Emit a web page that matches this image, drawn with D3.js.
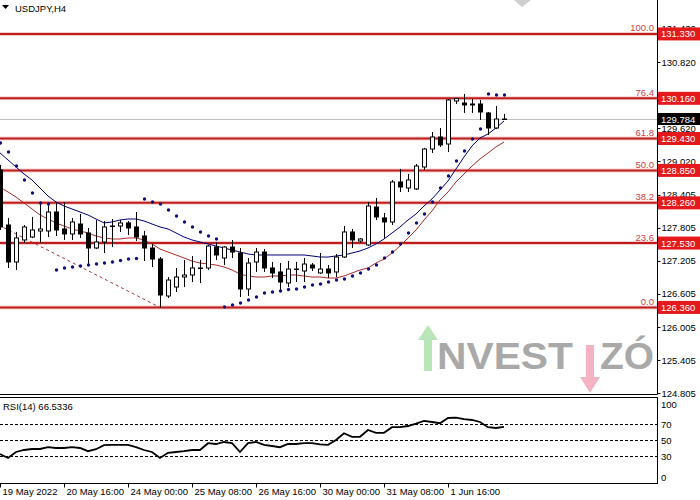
<!DOCTYPE html>
<html>
<head>
<meta charset="utf-8">
<script src="https://cdn.jsdelivr.net/npm/d3@7"></script>
<style>
  body { margin: 0; background: #fff; }
  svg { display: block; }
  text { font-family: "Liberation Sans", Arial, sans-serif; }
</style>
</head>
<body>
<svg id="chart"></svg>
<script>
// Candles, USDJPY H4 (index = bar number from the left edge)
const opens = [128.858,127.858,127.186,127.586,127.640,127.749,127.749,128.094,127.786,127.695,
  127.876,127.713,127.440,127.549,127.840,127.840,127.895,127.822,127.658,127.440,
  127.240,126.568,126.731,126.913,126.949,127.067,127.077,127.458,127.258,127.458,
  127.349,126.695,127.186,127.367,127.077,127.004,126.804,127.049,127.022,127.131,
  126.986,127.058,127.004,127.276,127.731,127.567,127.495,128.185,127.986,127.913,
  128.640,128.531,128.513,128.912,129.239,129.457,129.330,130.112,130.075,130.057,
  130.057,129.894,129.621,129.780];
const highs = [128.949,127.986,127.731,127.858,128.004,128.276,128.222,128.258,128.276,127.986,
  128.058,127.804,127.949,127.931,127.967,127.949,127.931,128.094,127.749,127.513,
  127.276,126.913,127.077,127.222,127.295,127.222,127.495,127.549,127.476,127.586,
  127.440,127.258,127.440,127.422,127.186,127.167,127.204,127.186,127.258,127.167,
  127.349,127.131,127.331,127.840,127.786,127.622,128.276,128.349,128.076,128.676,
  128.876,128.785,128.967,129.258,129.548,129.621,130.148,130.166,130.239,130.148,
  130.130,129.912,130.021,129.876];
const lows = [127.767,127.077,127.040,127.531,127.622,127.531,127.640,127.658,127.586,127.586,
  127.622,127.149,127.422,127.349,127.458,127.731,127.676,127.567,127.204,127.095,
  126.360,126.531,126.640,126.731,126.822,126.804,127.040,127.222,127.131,127.258,
  126.549,126.568,127.004,127.004,126.895,126.677,126.731,126.822,126.822,127.022,
  126.967,126.895,126.913,127.258,127.440,127.531,127.476,127.949,127.622,127.858,
  128.458,128.458,128.494,128.858,129.167,129.276,129.185,130.057,129.894,129.894,
  129.766,129.494,129.603,129.766];
const closes = [127.822,127.186,127.622,127.822,127.767,127.786,128.094,127.767,127.695,127.913,
  127.695,127.440,127.549,127.822,127.831,127.895,127.804,127.640,127.440,127.240,
  126.586,126.858,126.913,126.949,127.077,127.077,127.476,127.313,127.458,127.367,
  126.695,127.167,127.367,127.077,126.986,126.822,127.058,127.058,127.149,127.077,
  127.058,126.986,127.276,127.731,127.586,127.604,128.203,128.004,127.913,128.640,
  128.549,128.676,128.930,129.239,129.457,129.312,130.130,130.157,130.039,130.039,
  129.912,129.621,129.784,129.784];

// Indicators
const maFast = [129.167,129.040,128.912,128.785,128.676,128.531,128.385,128.276,128.203,128.149,
  128.094,128.040,127.967,127.895,127.913,127.949,127.967,127.967,127.931,127.876,
  127.822,127.786,127.713,127.640,127.586,127.549,127.513,127.476,127.440,127.404,
  127.367,127.331,127.313,127.313,127.313,127.313,127.313,127.313,127.313,127.295,
  127.276,127.276,127.295,127.313,127.349,127.386,127.440,127.513,127.604,127.713,
  127.822,127.949,128.058,128.203,128.331,128.494,128.658,128.876,129.094,129.294,
  129.439,129.512,129.621,129.748];
const maSlow = [128.549,128.458,128.367,128.258,128.149,128.040,127.967,127.895,127.840,127.786,
  127.749,127.713,127.658,127.622,127.604,127.604,127.622,127.622,127.586,127.513,
  127.422,127.367,127.313,127.258,127.204,127.167,127.149,127.131,127.095,127.040,
  126.967,126.931,126.913,126.913,126.931,126.931,126.949,126.949,126.931,126.913,
  126.913,126.895,126.895,126.931,126.986,127.040,127.077,127.167,127.240,127.349,
  127.476,127.622,127.767,127.949,128.113,128.313,128.458,128.640,128.785,128.930,
  129.058,129.167,129.276,129.367];
const sar = [129.348,129.185,128.930,128.676,128.440,128.258,128.240,127.040,127.077,127.095,
  127.113,127.131,127.149,127.167,127.186,127.213,127.240,127.249,128.331,128.276,
  128.240,128.131,128.022,127.913,127.822,127.731,127.658,127.604,126.368,126.404,
  126.440,126.495,126.549,126.622,126.640,126.658,126.686,126.695,126.731,126.767,
  126.786,126.822,126.858,126.876,126.931,126.986,127.058,127.131,127.258,127.367,
  127.513,127.713,127.895,128.058,128.276,128.531,128.749,129.021,129.203,129.421,
  129.603,130.239,130.221,130.221];
const rsi = [32.5,27.5,35,37.5,38.75,38.75,41,40,40,41,
  40,36,38.5,43.5,44,44,44,41,37.5,35,
  27.5,34,35,36,37.5,37.5,46,45,47.5,46,
  35,46,47.5,44,42.5,41,45,45,46,46,
  44.5,44,50,58.5,54,54,62.5,59,59,66,
  66,67.5,70.5,74,72.5,71,77.5,78,76,75,
  72.5,66,65,66.53];

// Fibonacci retracement
const fibLevels = ["100.0", "76.4", "61.8", "50.0", "38.2", "23.6", "0.0"];
const fibPrices = [131.330, 130.160, 129.430, 128.850, 128.260, 127.530, 126.360];
const fibAnchorIdx = [-47, 20];
const fibAnchorPrice = [131.330, 126.360];

// Axes
const priceTicks = [131.430, 130.820, 129.620, 129.020, 128.405, 127.805, 127.205, 126.605, 126.005, 125.405, 124.805];
const rsiTicks = [0, 30, 50, 70, 100];
const rsiLevels = [30, 50, 70];
const timeTickIdx = [0, 8, 16, 24, 32, 40, 48, 56];
const timeLabels = ["19 May 2022", "20 May 16:00", "24 May 00:00", "25 May 08:00", "26 May 16:00", "30 May 00:00", "31 May 08:00", "1 Jun 16:00"];
const lastPrice = 129.784;
const rsiLast = "66.5336";

const W = 700, H = 500;
const plotRight = 657;
const mainBottom = 394.5, rsiTop = 397.5, rsiBottom = 483.5;

const svg = d3.select("#chart").attr("width", W).attr("height", H);

const x = d3.scaleLinear().domain([0, 1]).range([0, 8]);
const y = d3.scaleLinear().domain([124.805, 130.820]).range([393, 62]);
const yRsi = d3.scaleLinear().domain([0, 100]).range([480, 400]);

const defs = svg.append("defs");
defs.append("clipPath").attr("id", "clipMain")
  .append("rect").attr("x", 0).attr("y", 0).attr("width", plotRight).attr("height", mainBottom);
defs.append("clipPath").attr("id", "clipRsi")
  .append("rect").attr("x", 0).attr("y", rsiTop).attr("width", plotRight).attr("height", rsiBottom - rsiTop);

// Watermark
const wm = svg.append("g");
wm.append("path").attr("d", "M428,325 L438,340 L432,340 L432,371 L424,371 L424,340 L418,340 Z").attr("fill", "#b9e6b9");
wm.append("text").attr("x", 437).attr("y", 369).attr("font-family", "DejaVu Sans").attr("font-weight", "bold")
  .attr("font-size", 36).attr("fill", "#a9a9a9")
  .attr("textLength", 136).attr("lengthAdjust", "spacingAndGlyphs").text("NVEST");
wm.append("path").attr("d", "M586,345 L594,345 L594,377 L600,377 L590,393 L580,377 L586,377 Z").attr("fill", "#f3b3c2");
wm.append("text").attr("x", 600).attr("y", 369).attr("font-family", "DejaVu Sans").attr("font-weight", "bold")
  .attr("font-size", 36).attr("fill", "#a9a9a9")
  .attr("textLength", 54).attr("lengthAdjust", "spacingAndGlyphs").text("ZÓ");
svg.append("path").attr("d", "M514,0 L531,0 L522,7 Z").attr("fill", "#cfcfcf");

const main = svg.append("g").attr("clip-path", "url(#clipMain)");

// bid line
main.append("line").attr("x1", 0).attr("x2", plotRight)
  .attr("y1", Math.round(y(lastPrice)) + 0.5).attr("y2", Math.round(y(lastPrice)) + 0.5)
  .attr("stroke", "#c0c0c0");

// fib levels
main.selectAll(".fib-halo").data(fibPrices).enter().append("line")
  .attr("x1", 0).attr("x2", plotRight).attr("y1", d => y(d)).attr("y2", d => y(d))
  .attr("stroke", "#e8a0a0").attr("stroke-width", 4).attr("opacity", 0.5);
main.selectAll(".fib").data(fibPrices).enter().append("line")
  .attr("x1", 0).attr("x2", plotRight).attr("y1", d => y(d)).attr("y2", d => y(d))
  .attr("stroke", "#c01c1c").attr("stroke-width", 2);

// fib trend line
main.append("line")
  .attr("x1", x(fibAnchorIdx[0])).attr("y1", y(fibAnchorPrice[0]))
  .attr("x2", x(fibAnchorIdx[1])).attr("y2", y(fibAnchorPrice[1]))
  .attr("stroke", "#b03030").attr("stroke-dasharray", "3,3");

// moving averages
const maLine = d3.line().x((d, i) => x(i)).y(d => y(d));
main.append("path").attr("d", maLine(maSlow)).attr("fill", "none").attr("stroke", "#b02a2a").attr("stroke-width", 1);
main.append("path").attr("d", maLine(maFast)).attr("fill", "none").attr("stroke", "#00007a").attr("stroke-width", 1);

// candles
const idx = d3.range(opens.length);
main.selectAll(".wick").data(idx).enter().append("line")
  .attr("x1", i => Math.round(x(i)) + 0.5).attr("x2", i => Math.round(x(i)) + 0.5)
  .attr("y1", i => y(highs[i])).attr("y2", i => y(lows[i]))
  .attr("stroke", "#000");
main.selectAll(".body").data(idx).enter().append("rect")
  .attr("x", i => Math.round(x(i)) - 1.5)
  .attr("width", 4)
  .attr("y", i => Math.min(y(opens[i]), y(closes[i])))
  .attr("height", i => Math.max(0.5, Math.abs(y(opens[i]) - y(closes[i]))))
  .attr("fill", i => closes[i] >= opens[i] ? "#fff" : "#000")
  .attr("stroke", "#000");

// parabolic SAR
main.selectAll(".sar").data(sar).enter().append("circle")
  .attr("cx", (d, i) => Math.round(x(i)) + 0.5).attr("cy", d => y(d)).attr("r", 1.7)
  .attr("fill", "#10107a");

// fib level captions
svg.selectAll(".fibtxt").data(fibPrices).enter().append("text")
  .attr("x", plotRight - 3).attr("y", d => y(d) - 2.5)
  .attr("text-anchor", "end").attr("font-size", 9.5).attr("fill", "#d04040")
  .text((d, i) => fibLevels[i]);

// title
svg.append("path").attr("d", "M2,5 L9,5 L5.5,9 Z").attr("fill", "#000");
svg.append("text").attr("x", 15).attr("y", 12).attr("font-size", 9.5).attr("fill", "#000").text("USDJPY,H4");

// price axis
const yAxis = svg.append("g").attr("transform", `translate(${plotRight + 0.5},0)`)
  .call(d3.axisRight(y).tickValues(priceTicks).tickFormat(d3.format(".3f")).tickSize(3).tickPadding(1));
yAxis.select(".domain").remove();
yAxis.selectAll("text").attr("font-family", "Liberation Sans, Arial, sans-serif").attr("font-size", 9.5).attr("fill", "#000");

// fib price tags
svg.selectAll(".fibtag").data(fibPrices).enter().append("rect")
  .attr("x", plotRight).attr("y", d => y(d) - 6.5).attr("width", W - plotRight).attr("height", 13)
  .attr("fill", "#e3191c");
svg.selectAll(".fibtagtxt").data(fibPrices).enter().append("text")
  .attr("x", plotRight + 4).attr("y", d => y(d) + 3.5).attr("font-size", 9.5).attr("fill", "#fff")
  .text(d => d3.format(".3f")(d));

// last price tag
svg.append("rect").attr("x", plotRight).attr("y", y(lastPrice) - 6).attr("width", W - plotRight).attr("height", 12).attr("fill", "#000");
svg.append("text").attr("x", plotRight + 4).attr("y", y(lastPrice) + 3.5).attr("font-size", 9.5).attr("fill", "#fff").text(lastPrice.toFixed(3));

// frame lines
svg.append("line").attr("x1", plotRight + 0.5).attr("x2", plotRight + 0.5).attr("y1", 0).attr("y2", mainBottom).attr("stroke", "#000");
svg.append("line").attr("x1", 0).attr("x2", plotRight + 0.5).attr("y1", mainBottom).attr("y2", mainBottom).attr("stroke", "#000");
svg.append("rect").attr("x", -1).attr("y", rsiTop).attr("width", plotRight + 1.5).attr("height", rsiBottom - rsiTop)
  .attr("fill", "none").attr("stroke", "#000");

// RSI panel
const rsiG = svg.append("g").attr("clip-path", "url(#clipRsi)");
rsiG.selectAll(".lvl").data(rsiLevels).enter().append("line")
  .attr("x1", 0).attr("x2", plotRight).attr("y1", d => Math.round(yRsi(d)) + 0.5).attr("y2", d => Math.round(yRsi(d)) + 0.5)
  .attr("stroke", "#000").attr("stroke-dasharray", "3,2");
rsiG.append("path").attr("d", d3.line().x((d, i) => x(i)).y(d => yRsi(d))(rsi))
  .attr("fill", "none").attr("stroke", "#000").attr("stroke-width", 1.8);
svg.append("text").attr("x", 3).attr("y", 410).attr("font-size", 9.5).attr("fill", "#000").text("RSI(14) " + rsiLast);

// RSI scale labels, kept inside the panel like the terminal does
svg.selectAll(".rsilbl").data(rsiTicks).enter().append("text")
  .attr("x", plotRight + 4)
  .attr("y", d => Math.min(477, Math.max(404, yRsi(d))) + 3.5)
  .attr("font-size", 9.5).attr("fill", "#000")
  .text(d => d);

// time axis
const xAxis = svg.append("g").attr("transform", `translate(0,${rsiBottom})`)
  .call(d3.axisBottom(x).tickValues(timeTickIdx).tickFormat((d, i) => timeLabels[i]).tickSize(4).tickPadding(1));
xAxis.select(".domain").remove();
xAxis.selectAll("text").attr("text-anchor", "start").attr("dx", 2)
  .attr("font-family", "Liberation Sans, Arial, sans-serif").attr("font-size", 9.5).attr("fill", "#000");
</script>
</body>
</html>
